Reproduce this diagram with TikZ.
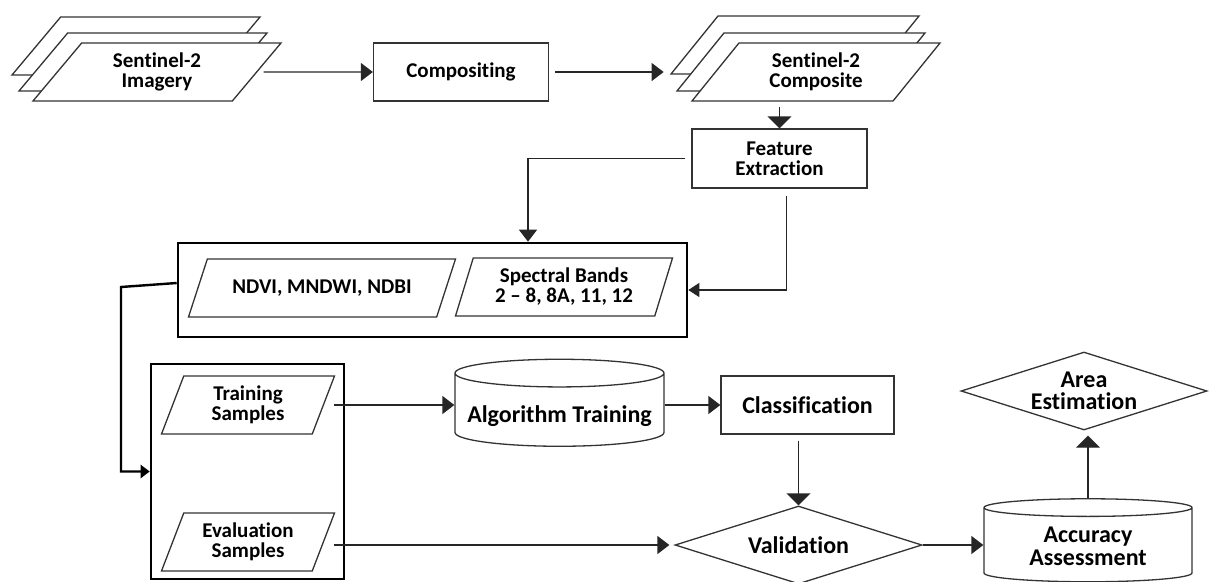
\documentclass[tikz,border=0pt]{standalone}
\usepackage{fontspec}
\setmainfont{Carlito}[Ligatures=NoCommon]
\usetikzlibrary{shapes.geometric,arrows.meta,positioning}

\tikzset{
  box/.style={draw=black!80, line width=1.3pt, fill=white, align=center, inner sep=0pt,
    font=\fontsize{21}{20}\selectfont\bfseries},
  bigbox/.style={box, font=\fontsize{24}{22.5}\selectfont\bfseries},
  para/.style={box, trapezium, trapezium stretches body, text height=35pt, text depth=5pt, inner ysep=9pt},
  oneline/.style={text height=15pt, inner ysep=19pt},
  drum/.style={bigbox, cylinder, shape border rotate=90, aspect=0.15},
  frame/.style={draw=black, line width=2.6pt},
  arr/.style={draw=black!85, line width=1.3pt, -{Triangle[length=12pt,width=18pt]}},
  widearr/.style={arr, -{Triangle[length=12pt,width=24pt]}},
  smallarr/.style={arr, -{Triangle[length=11pt,width=14pt]}},
  link/.style={draw=black, line width=2.4pt, -{Triangle[length=9pt,width=13pt]}}
}

\begin{document}
\begin{tikzpicture}[x=1pt,y=-1pt]
  \useasboundingbox (0,0) rectangle (1209,581);

  % Sentinel-2 imagery (stack)
  \node[para, trapezium left angle=50, trapezium right angle=130, minimum width=248pt] (imgC) at (136,46) {};
  \node[para, trapezium left angle=50, trapezium right angle=130, minimum width=248pt] (imgB) at (143,62) {};
  \node[para, trapezium left angle=50, trapezium right angle=130, minimum width=248pt] (imgA) at (157,72) {Sentinel-2\\Imagery};

  \node[box, minimum width=175pt, minimum height=58pt] (comp) at (461,72) {Compositing};

  % Sentinel-2 composite (stack)
  \node[para, trapezium left angle=51, trapezium right angle=129, minimum width=248pt] (cmpC) at (795,45) {};
  \node[para, trapezium left angle=51, trapezium right angle=129, minimum width=248pt] (cmpB) at (801,62) {};
  \node[para, trapezium left angle=51, trapezium right angle=129, minimum width=248pt] (cmpA) at (816,72) {Sentinel-2\\Composite};

  \node[box, minimum width=175pt, minimum height=59pt] (fe) at (779.5,158.5) {Feature\\Extraction};

  % features
  \node[frame, minimum width=509pt, minimum height=94pt] (feat) at (432.5,290) {};
  \node[para, oneline, trapezium left angle=72, trapezium right angle=108, minimum width=267pt] (idx) at (322,288) {NDVI, MNDWI, NDBI};
  \node[para, trapezium left angle=73, trapezium right angle=107, minimum width=217pt] (bands) at (564,287) {Spectral Bands\\2 -- 8, 8A, 11, 12};

  % samples
  \node[frame, minimum width=193pt, minimum height=215pt] (samp) at (247.5,471.5) {};
  \node[para, trapezium left angle=69, trapezium right angle=111, minimum width=173pt] (train) at (248,405) {Training\\Samples};
  \node[para, trapezium left angle=69, trapezium right angle=111, minimum width=173pt] (eval) at (248,542) {Evaluation\\Samples};

  \node[drum, minimum width=209pt, minimum height=87pt, text height=29pt, text depth=5pt] (alg) at (559.5,410) {Algorithm Training};
  \node[bigbox, minimum width=173pt, minimum height=58pt] (cls) at (807.5,405) {Classification};
  \node[bigbox, diamond, aspect=3.17, minimum width=247pt, minimum height=78pt] (val) at (798.5,545) {Validation};
  \node[drum, minimum width=208pt, minimum height=83pt, text height=45pt, text depth=5pt] (acc) at (1088,545) {Accuracy\\Assessment};
  \node[bigbox, diamond, aspect=3.15, minimum width=246pt, minimum height=78pt] (area) at (1084,391) {Area\\Estimation};

  \coordinate (bend) at (121,287);

  \draw[arr, shorten <=6pt] (imgA.east) -- (comp.west);
  \draw[arr, shorten <=6pt, shorten >=6pt] (comp.east) -- (comp.east -| cmpC.bottom left corner);
  \draw[widearr] ([yshift=-5pt]cmpA.south -| fe.north) -- (fe.north);
  \draw[arr, shorten <=6pt] (fe.west) -| ([xshift=95.5pt]feat.north);
  \draw[smallarr] ([xshift=7pt,yshift=-7pt]fe.south) |- (feat.east);
  \draw[link] ([yshift=7pt]feat.west) -- (bend) |- (samp.west);
  \draw[arr, shorten <=10pt] (train.east) -- (train.east -| alg.west);
  \draw[arr, shorten <=10pt, shorten >=5pt] (val.west -| eval.east) -- (val.west);
  \draw[arr] (alg.east |- cls.west) -- (cls.west);
  \draw[widearr] ([yshift=-6pt]cls.south -| val.north) -- (val.north);
  \draw[arr] (val.east) -- (val.east -| acc.west);
  \draw[widearr, shorten >=5pt] (acc.north) -- (acc.north |- area.south);
\end{tikzpicture}
\end{document}
